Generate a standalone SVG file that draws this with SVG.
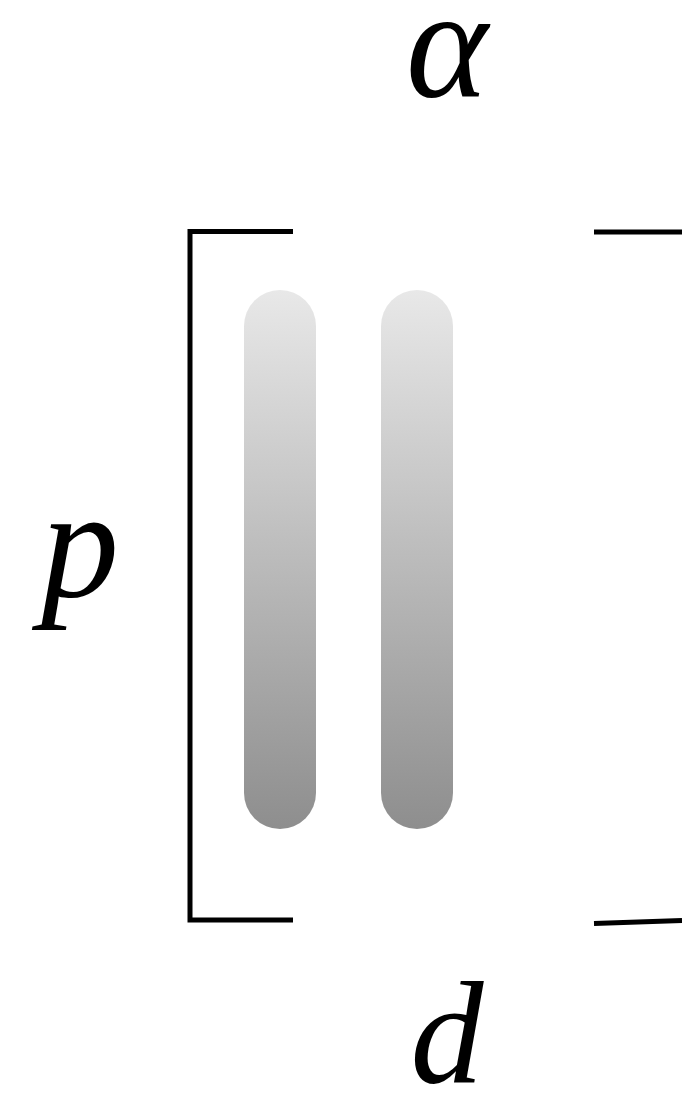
<svg xmlns="http://www.w3.org/2000/svg" width="682" height="1104" viewBox="0 0 682 1104">
<defs>
<linearGradient id="g" x1="0" y1="0" x2="0" y2="1">
<stop offset="0" stop-color="#e8e8e8"/>
<stop offset="1" stop-color="#8e8e8e"/>
</linearGradient>
<style>
.t{font-family:"Liberation Serif","Times New Roman",serif;font-style:italic;font-size:156px;fill:#000;text-anchor:middle}
.k{stroke:#000;stroke-width:5;fill:none}
</style>
</defs>
<rect width="682" height="1104" fill="#fff"/>
<g id="bracket-left">
<path class="k" d="M293,231.5 H190 V920 H293"/>
</g>
<g id="bracket-right">
<line class="k" x1="594" y1="232" x2="682" y2="232"/>
<line class="k" x1="594" y1="923.5" x2="682" y2="920.5"/>
</g>
<g id="bar-left"><rect x="244" y="290" width="72" height="539" rx="36" fill="url(#g)"/></g>
<g id="bar-right"><rect x="381" y="290" width="72" height="539" rx="36" fill="url(#g)"/></g>
<g id="label-alpha"><text class="t" x="447" y="96">α</text></g>
<g id="label-p"><text class="t" x="80" y="597">p</text></g>
<g id="label-d"><text class="t" x="447" y="1083" style="font-size:146px">d</text></g>
</svg>
